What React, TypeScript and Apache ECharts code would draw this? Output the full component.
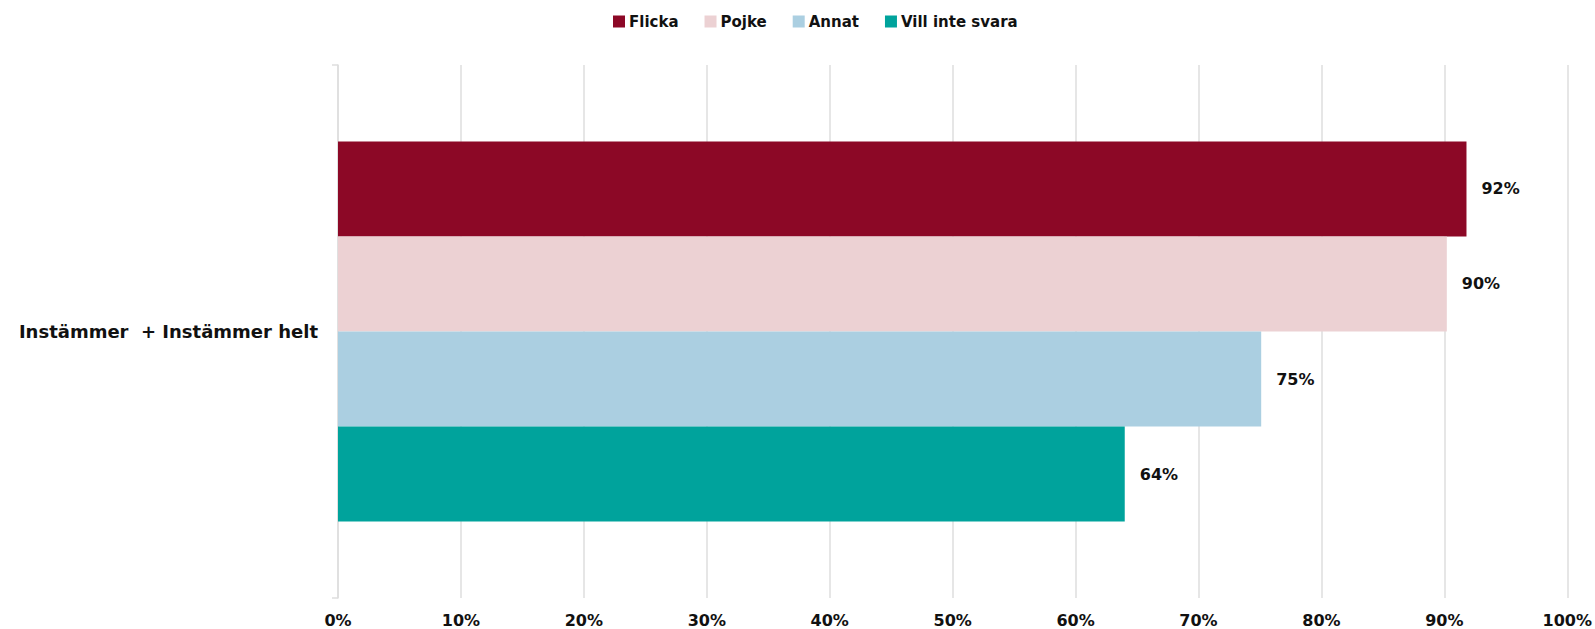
import React, { useEffect, useRef } from "react";
import * as echarts from "echarts";

const categories = ["Instämmer  + Instämmer helt"];
const seriesNames = ["Flicka", "Pojke", "Annat", "Vill inte svara"];
const seriesValues = [[91.8], [90.2], [75.1], [64.0]];
const colors = ["#8c0826", "#ecd1d3", "#abcfe1", "#00a39c"];
const xTicks = { min: 0, max: 100, interval: 10 };

const FONT = "DejaVu Sans";

export default function App() {
  const ref = useRef<HTMLDivElement>(null);
  useEffect(() => {
    document.body.style.margin = "0";
    const chart = echarts.init(ref.current!, null, { renderer: "svg" });
    chart.setOption({
      animation: false,
      textStyle: { fontFamily: FONT },
      legend: {
        top: 9,
        left: 608,
        itemWidth: 12,
        itemHeight: 12,
        itemGap: 26,
        icon: "rect",
        textStyle: { fontFamily: FONT, fontSize: 15, fontWeight: "bold", color: "#111", padding: [0, 0, 0, -1] },
        data: seriesNames,
      },
      grid: { left: 338, right: 27, top: 65, bottom: 31 },
      xAxis: {
        type: "value",
        min: xTicks.min,
        max: xTicks.max,
        interval: xTicks.interval,
        axisLine: { show: false },
        axisTick: { show: false },
        splitLine: { show: true, lineStyle: { color: "#dedede", width: 1.5 } },
        axisLabel: {
          formatter: "{value}%",
          fontFamily: FONT,
          fontSize: 16,
          fontWeight: "bold",
          color: "#111",
          margin: 14,
        },
      },
      yAxis: {
        type: "category",
        data: categories,
        inverse: true,
        axisLine: { show: true, lineStyle: { color: "#dedede", width: 1.5 } },
        axisTick: { show: true, length: 6, lineStyle: { color: "#dedede", width: 1.5 } },
        axisLabel: {
          fontFamily: FONT,
          fontSize: 18,
          fontWeight: "bold",
          color: "#111",
          margin: 20,
        },
      },
      series: seriesNames.map((name, i) => ({
        name,
        type: "bar",
        data: seriesValues[i],
        barGap: "0%",
        barCategoryGap: "28.7%",
        itemStyle: { color: colors[i] },
        label: {
          show: true,
          position: "right",
          distance: 15,
          fontFamily: FONT,
          fontSize: 16,
          fontWeight: "bold",
          color: "#111",
          formatter: (p: any) => Math.round(p.value) + "%",
        },
      })),
    });
    return () => chart.dispose();
  }, []);
  return <div ref={ref} style={{ width: 1595, height: 629 }} />;
}
